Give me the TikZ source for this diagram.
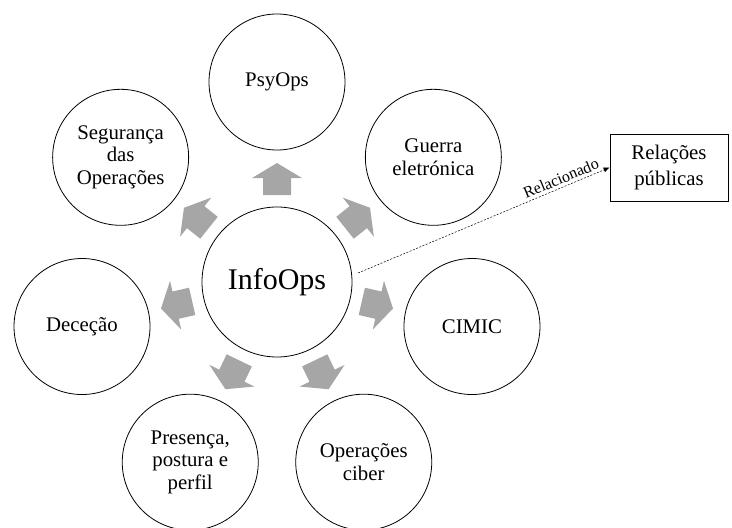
\documentclass[tikz,border=0pt]{standalone}
\usepackage{fontspec}
\setmainfont{Liberation Serif}
\usetikzlibrary{arrows.meta}
\definecolor{arrowgray}{RGB}{166,166,166}
\tikzset{
  outer/.style={draw, line width=0.8pt, circle, minimum size=136pt, inner sep=0pt,
    align=center, font=\fontsize{20.8}{22.5}\selectfont},
  hub/.style={draw, line width=0.8pt, circle, minimum size=150pt, inner sep=0pt,
    font=\fontsize{30}{32}\selectfont},
  sidebox/.style={draw, line width=0.8pt, minimum width=118pt, minimum height=67pt,
    inner sep=0pt, align=center, font=\fontsize{20.8}{25.5}\selectfont},
  relation/.style={dashed, dash pattern=on 2pt off 1.5pt, line width=0.5pt,
    -{Latex[length=6pt,width=5pt]}},
  blockarrow/.pic={
    \fill[arrowgray] (-16,14) -- (1,14) -- (1,25) -- (16,0) -- (1,-25)
      -- (1,-14) -- (-16,-14) -- cycle;
  }
}
\begin{document}
\begin{tikzpicture}[x=1pt, y=-1pt]
  \useasboundingbox (0,0) rectangle (732,528);

  % central circle
  \node[hub] (info) at (277,282) {InfoOps};

  % surrounding disciplines, evenly spaced on a ring of radius 200
  \node[outer] (psy)  at ({277+200*cos(90)},      {282-200*sin(90)})      {PsyOps};
  \node[outer] (ge)   at ({277+200*cos(38.57)},   {282-200*sin(38.57)})   {Guerra\\eletrónica};
  \node[outer] (cim)  at ({277+200*cos(-12.86)},  {282-200*sin(-12.86)})  {CIMIC};
  \node[outer] (cib)  at ({277+200*cos(-64.29)},  {282-200*sin(-64.29)})  {Operações\\ciber};
  \node[outer] (pre)  at ({277+200*cos(-115.71)}, {282-200*sin(-115.71)}) {Presença,\\postura e\\perfil};
  \node[outer] (dec)  at ({277+200*cos(192.86)},  {282-200*sin(192.86)})  {Deceção};
  \node[outer] (seg)  at ({277+200*cos(141.43)},  {282-200*sin(141.43)})  {Segurança\\das\\Operações};

  % grey block arrows pointing outwards
  \foreach \a in {90,38.57,-12.86,-64.29,-115.71,192.86,141.43}
    \pic[rotate=\a] at ({277+103*cos(\a)}, {282-103*sin(\a)}) {blockarrow};

  % related element
  \node[sidebox] (rp) at (669,167.5) {Relações\\públicas};
  \coordinate (relstart) at (358,273);
  \draw[relation] (relstart) -- (rp.west)
    node[pos=0.82, above, sloped, inner sep=3pt, font=\fontsize{16}{18}\selectfont] {Relacionado};
\end{tikzpicture}
\end{document}
